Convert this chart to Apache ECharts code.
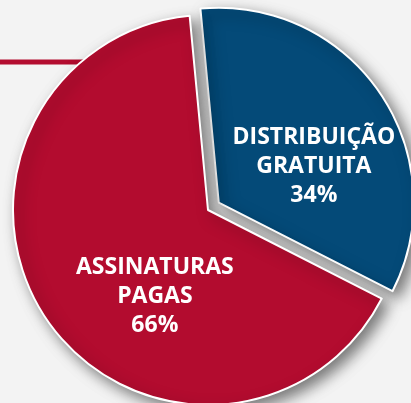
<!DOCTYPE html>
<html>
<head>
<meta charset="utf-8">
<script src="https://cdn.jsdelivr.net/npm/echarts@6/dist/echarts.min.js"></script>
<style>
  html, body { margin: 0; padding: 0; background: #f3f3f3; }
  #main { width: 411px; height: 403px; }
</style>
</head>
<body>
<div id="main"></div>
<script>
var chart = echarts.init(document.getElementById('main'));

// dados
var categories = ['DISTRIBUIÇÃO\nGRATUITA', 'ASSINATURAS\nPAGAS'];
var values = [34, 66];
var colors = ['#044a78', '#b30c2f'];
var selectedFlags = [true, false];
// deslocamento dos rótulos (px)
var labelShift = [[12, 20], [30, 30]];

var pieData = [];
for (var i = 0; i < categories.length; i++) {
    pieData.push({
        name: categories[i],
        value: values[i],
        selected: selectedFlags[i],
        itemStyle: { color: colors[i] }
    });
}

var option = {
    backgroundColor: '#f3f3f3',
    animation: false,
    graphic: [{
        type: 'line',
        z: 0,
        shape: { x1: 0, y1: 62, x2: 110, y2: 62 },
        style: { stroke: '#b30c2f', lineWidth: 5 }
    }],
    series: [{
        type: 'pie',
        z: 2,
        center: [208, 210],
        radius: 195,
        startAngle: 95.4,
        selectedMode: 'single',
        selectedOffset: 13,
        itemStyle: {
            borderColor: '#ffffff',
            borderWidth: 2,
            shadowBlur: 14,
            shadowOffsetX: 6,
            shadowOffsetY: 6,
            shadowColor: 'rgba(0,0,0,0.5)'
        },
        label: {
            show: true,
            position: 'inside',
            color: '#ffffff',
            fontFamily: 'Open Sans',
            fontWeight: 'bold',
            fontSize: 23,
            lineHeight: 29,
            formatter: function (p) {
                return p.name + '\n' + p.value + '%';
            }
        },
        labelLayout: function (params) {
            var s = labelShift[params.dataIndex];
            return { dx: s[0], dy: s[1] };
        },
        emphasis: { disabled: true },
        data: pieData
    }]
};

chart.setOption(option);
</script>
</body>
</html>
